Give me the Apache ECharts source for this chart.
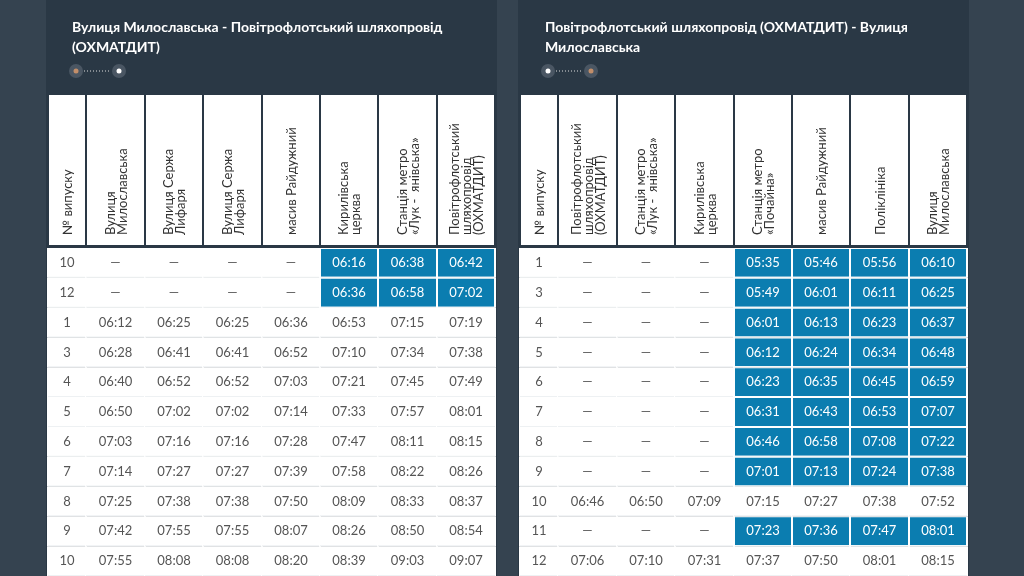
<!DOCTYPE html>
<html><head><meta charset="utf-8">
<script src="https://cdn.jsdelivr.net/npm/echarts@6/dist/echarts.min.js"></script>
<style>html,body{margin:0;padding:0;background:#354350}#c{width:1024px;height:576px}</style>
</head><body><div id="c"></div>
<script>
// таблиця 1: Вулиця Милославська -> Повітрофлотський шляхопровід
const headersA = ['№ випуску', 'Вулиця\nМилославська', 'Вулиця Сержа\nЛифаря', 'Вулиця Сержа\nЛифаря', 'масив Райдужний',
    'Кирилівська\nцерква', 'Станція метро\n«Лук -  янівська»', 'Повітрофлотський\nшляхопровід\n(ОХМАТДИТ)'];
const rowsA = [
    ['10', '—', '—', '—', '—', '06:16', '06:38', '06:42'],
    ['12', '—', '—', '—', '—', '06:36', '06:58', '07:02'],
    ['1', '06:12', '06:25', '06:25', '06:36', '06:53', '07:15', '07:19'],
    ['3', '06:28', '06:41', '06:41', '06:52', '07:10', '07:34', '07:38'],
    ['4', '06:40', '06:52', '06:52', '07:03', '07:21', '07:45', '07:49'],
    ['5', '06:50', '07:02', '07:02', '07:14', '07:33', '07:57', '08:01'],
    ['6', '07:03', '07:16', '07:16', '07:28', '07:47', '08:11', '08:15'],
    ['7', '07:14', '07:27', '07:27', '07:39', '07:58', '08:22', '08:26'],
    ['8', '07:25', '07:38', '07:38', '07:50', '08:09', '08:33', '08:37'],
    ['9', '07:42', '07:55', '07:55', '08:07', '08:26', '08:50', '08:54'],
    ['10', '07:55', '08:08', '08:08', '08:20', '08:39', '09:03', '09:07']
];
const blueA = [0, 1]; // рядки з виділенням (з першого часу)
// таблиця 2: зворотний напрямок
const headersB = ['№ випуску', 'Повітрофлотський\nшляхопровід\n(ОХМАТДИТ)', 'Станція метро\n«Лук -  янівська»', 'Кирилівська\nцерква',
    'Станція метро\n«Почайна»', 'масив Райдужний', 'Поліклініка', 'Вулиця\nМилославська'];
const rowsB = [
    ['1', '—', '—', '—', '05:35', '05:46', '05:56', '06:10'],
    ['3', '—', '—', '—', '05:49', '06:01', '06:11', '06:25'],
    ['4', '—', '—', '—', '06:01', '06:13', '06:23', '06:37'],
    ['5', '—', '—', '—', '06:12', '06:24', '06:34', '06:48'],
    ['6', '—', '—', '—', '06:23', '06:35', '06:45', '06:59'],
    ['7', '—', '—', '—', '06:31', '06:43', '06:53', '07:07'],
    ['8', '—', '—', '—', '06:46', '06:58', '07:08', '07:22'],
    ['9', '—', '—', '—', '07:01', '07:13', '07:24', '07:38'],
    ['10', '06:46', '06:50', '07:09', '07:15', '07:27', '07:38', '07:52'],
    ['11', '—', '—', '—', '07:23', '07:36', '07:47', '08:01'],
    ['12', '07:06', '07:10', '07:31', '07:37', '07:50', '08:01', '08:15']
];
const blueB = [0, 1, 2, 3, 4, 5, 6, 7, 9];
const colWidths = [38, 59, 58, 59, 58, 58, 59, 58];

const FONT = 'Lato, "Open Sans", sans-serif';
let chart = echarts.init(document.getElementById('c'));

function cellData(rows, blue) {
    let d = [];
    rows.forEach((r, ri) => r.forEach((v, ci) => {
        d.push([ci, ri, v, (blue.indexOf(ri) >= 0 && v !== '—' && ci > 0) ? 1 : 0]);
    }));
    return d;
}
function headData(h) {
    return h.map((t, i) => [i, 0, t]);
}
function renderCell(params, api) {
    let p = api.coord([api.value(0), api.value(1)]);
    let s = api.size([1, 1]);
    let blue = api.value(3) === 1;
    let txt = api.value(2);
    return {
        type: 'group', children: [
            {type: 'rect', shape: {x: p[0] - s[0] / 2 - 1, y: p[1] - s[1] / 2, width: s[0] + 2, height: s[1]},
                style: {fill: '#fff'}},
            {type: 'rect', shape: {x: p[0] - s[0] / 2 + 1, y: p[1] - s[1] / 2 + 1, width: s[0] - 2, height: s[1] - 2},
                style: {fill: blue ? '#0b7db0' : '#fff'}},
            {type: 'rect', shape: {x: p[0] - s[0] / 2, y: p[1] + s[1] / 2 - 1, width: s[0], height: 1},
                style: {fill: blue ? '#fff' : '#eef1f3'}},
            {type: 'text', x: p[0], y: p[1],
                style: {text: txt, fill: blue ? '#fff' : '#555', font: '13px ' + FONT, align: 'center', verticalAlign: 'middle'}}
        ]
    };
}
function renderHead(params, api) {
    let p = api.coord([api.value(0), 0]);
    let s = api.size([1, 1]);
    return {
        type: 'group', children: [
            {type: 'rect', shape: {x: p[0] - s[0] / 2 + 1, y: p[1] - s[1] / 2, width: s[0] - 2, height: s[1]},
                style: {fill: '#fff'}},
            {type: 'text', x: p[0] + 1, y: p[1] + s[1] / 2 - 10, rotation: Math.PI / 2,
                style: {text: api.value(2), fill: '#333', font: '13px ' + FONT, lineHeight: 12,
                    align: 'left', verticalAlign: 'middle'}}
        ]
    };
}

// колонки мають різну ширину, тому кожна таблиця – набір сіток по одній колонці
let grids = [], xAxes = [], yAxes = [], series = [];
function addTable(left, headers, rows, blue) {
    let x = left;
    let cells = cellData(rows, blue);
    let heads = headData(headers);
    headers.forEach((h, ci) => {
        let w = colWidths[ci];
        [[95, 150, heads.filter(d => d[0] === ci), renderHead, 1],
            [248, 330, cells.filter(d => d[0] === ci), renderCell, rows.length]].forEach(g => {
            let idx = grids.length;
            grids.push({left: x, top: g[0], width: w, height: g[1]});
            xAxes.push({type: 'category', gridIndex: idx, data: [ci], show: false});
            yAxes.push({type: 'category', gridIndex: idx, inverse: true, show: false,
                data: Array.from({length: g[4]}, (_, i) => i)});
            series.push({type: 'custom', xAxisIndex: idx, yAxisIndex: idx, renderItem: g[3],
                data: g[2].map(d => [0, d[1], d[2], d[3]]), silent: true});
        });
        x += w;
    });
}
addTable(48, headersA, rowsA, blueA);
addTable(520, headersB, rowsB, blueB);

function routeIcon(x, firstActive) {
    return [
        {type: 'circle', shape: {cx: x, cy: 71, r: 7}, style: {fill: '#4a5663'}},
        {type: 'circle', shape: {cx: x + 43, cy: 71, r: 7}, style: {fill: '#4a5663'}},
        {type: 'circle', shape: {cx: x, cy: 71, r: 2.5}, style: {fill: firstActive ? '#c28e6a' : '#fff'}},
        {type: 'circle', shape: {cx: x + 43, cy: 71, r: 2.5}, style: {fill: firstActive ? '#fff' : '#c28e6a'}},
        {type: 'line', shape: {x1: x + 8, y1: 71, x2: x + 35, y2: 71}, style: {stroke: '#ddd', lineWidth: 1, lineDash: [1, 2]}}
    ];
}

chart.setOption({
    backgroundColor: '#354350',
    title: [
        {text: 'Вулиця Милославська - Повітрофлотський шляхопровід\n(ОХМАТДИТ)', left: 67, top: 12,
            textStyle: {color: '#fff', fontSize: 14, fontWeight: 'bold', fontFamily: FONT, lineHeight: 20}},
        {text: 'Повітрофлотський шляхопровід (ОХМАТДИТ) - Вулиця\nМилославська', left: 540, top: 12,
            textStyle: {color: '#fff', fontSize: 14, fontWeight: 'bold', fontFamily: FONT, lineHeight: 20}}
    ],
    graphic: [
        {type: 'rect', z: -10, shape: {x: 46, y: 0, width: 451, height: 576}, style: {fill: '#2a3845'}},
        {type: 'rect', z: -10, shape: {x: 518, y: 0, width: 451, height: 576}, style: {fill: '#2a3845'}}
    ].concat(routeIcon(76, true)).concat(routeIcon(548, false)),
    grid: grids, xAxis: xAxes, yAxis: yAxes, series: series
});
</script>
</body></html>
